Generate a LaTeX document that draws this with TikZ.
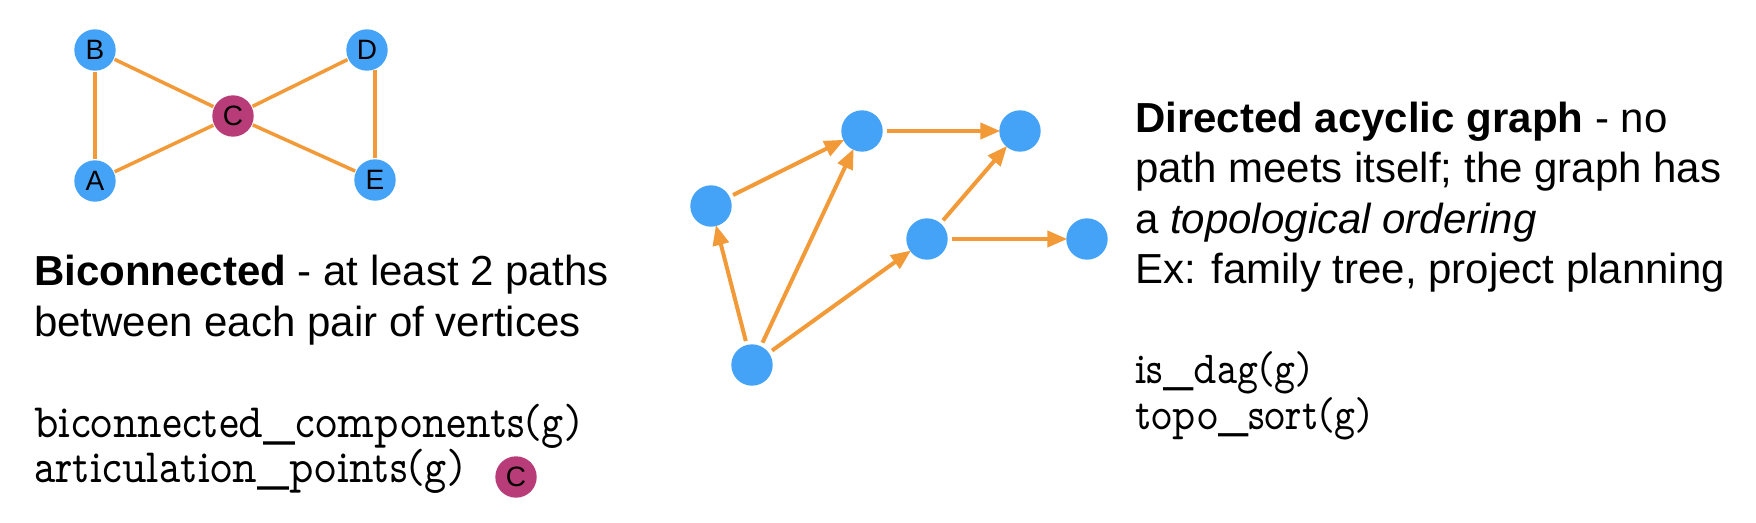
\documentclass[tikz,border=0pt]{standalone}
\usepackage{fontspec}
\setmainfont{Liberation Sans}
\newfontfamily\propmono[FakeStretch=0.87]{lmmonoprop10-regular.otf}
\newfontfamily\propmonowide[FakeStretch=0.88]{lmmonoprop10-regular.otf}
\usetikzlibrary{arrows.meta}
\definecolor{nodeblue}{RGB}{69,163,247}
\definecolor{cutmag}{RGB}{184,60,120}
\definecolor{edgeorange}{RGB}{242,153,56}
\tikzset{
  vtx/.style={circle, fill=nodeblue, minimum size=41.4pt, inner sep=0pt, outer sep=1pt,
    font=\fontsize{28}{28}\selectfont},
  cutvtx/.style={vtx, fill=cutmag},
  link/.style={draw=edgeorange, line width=3.5pt},
  arc/.style={draw=edgeorange, line width=4pt, -{Triangle[length=20pt,width=16pt]},
    shorten <=3pt, shorten >=-2pt},
  txt/.style={anchor=base west, inner sep=0pt, font=\fontsize{42}{50}\selectfont},
  codeL/.style={anchor=base west, inner sep=0pt, font=\propmonowide\fontsize{48}{48}\selectfont},
  codeR/.style={anchor=base west, inner sep=0pt, font=\propmono\fontsize{46}{46}\selectfont},
}
\begin{document}
\begin{tikzpicture}[x=1pt,y=-1pt]
\useasboundingbox (0,0) rectangle (1756,522);
% biconnected graph
\node[vtx] (B) at (95,50) {B};
\node[vtx] (D) at (367,50) {D};
\node[cutvtx] (C) at (233,116) {C};
\node[vtx] (A) at (95,181) {A};
\node[vtx] (E) at (375,180) {E};
\draw[link] (B) -- (A);
\draw[link] (B) -- (C);
\draw[link] (A) -- (C);
\draw[link] (C) -- (D);
\draw[link] (C) -- (E);
\draw[link] (E) -- (E |- D.-67);
% DAG
\node[vtx] (n1) at (711,206) {};
\node[vtx] (n2) at (862,131) {};
\node[vtx] (n3) at (1020,131) {};
\node[vtx] (n4) at (927,239) {};
\node[vtx] (n5) at (1087,239) {};
\node[vtx] (n6) at (752,365) {};
\draw[arc] (n1) -- (n2);
\draw[arc] (n2) -- (n3);
\draw[arc] (n6) -- (n1);
\draw[arc] (n6) -- (n2);
\draw[arc] (n6) -- (n4);
\draw[arc] (n4) -- (n3);
\draw[arc] (n4) -- (n5);
% left text
\node[txt] (l1) at (34,285) {\textbf{Biconnected} - at least 2 paths};
\node[txt] (l2) at (34,336) {between each pair of vertices};
\node[codeL] (c1) at (34,437) {biconnected\_components(g)};
\node[codeL] (c2) at (34,482) {articulation\_points(g)};
\node[cutvtx] (cm) at (516,477) {C};
% right text
\node[txt] (r1) at (1135,132) {\textbf{Directed acyclic graph} - no};
\node[txt] (r2) at (1135,182.5) {path meets itself; the graph has};
\node[txt] (r3) at (1135,233) {a \textit{topological ordering}};
\node[txt] (r4) at (1135,283) {Ex: family tree, project planning};
\node[codeR] (d1) at (1135,383) {is\_dag(g)};
\node[codeR] (d2) at (1135,429) {topo\_sort(g)};
\end{tikzpicture}
\end{document}
